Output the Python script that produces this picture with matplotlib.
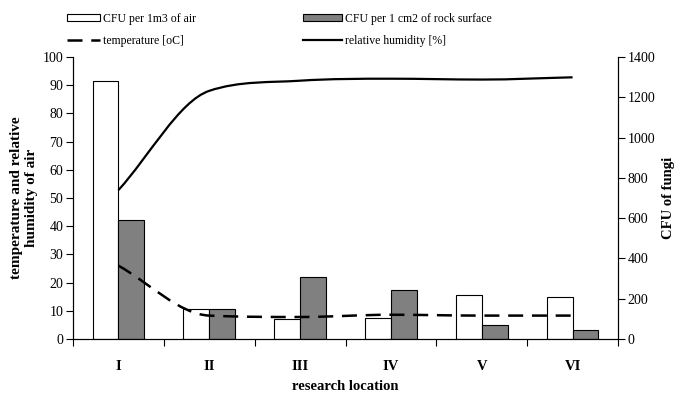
import matplotlib
matplotlib.use("Agg")
import matplotlib.pyplot as plt
from matplotlib.path import Path
from matplotlib.patches import PathPatch, Patch
from matplotlib.lines import Line2D
import numpy as np

locations = ["I", "II", "III", "IV", "V", "VI"]
cfu_air = [1280, 150, 100, 105, 220, 210]
cfu_rock = [590, 150, 308, 243, 68, 45]
temperature = [26.0, 8.3, 7.8, 8.6, 8.3, 8.3]
humidity = [52.8, 88.0, 91.6, 92.3, 92.0, 92.8]

plt.rcParams['font.family'] = ['Liberation Serif', 'DejaVu Serif']

fig = plt.figure(figsize=(6.81, 3.93), dpi=100)
ax = fig.add_axes([73/681, 1-339/393, (618-73)/681, (339-57)/393])
ax2 = ax.twinx()

x = np.arange(len(locations))
w = 0.285
ax2.bar(x - w/2, cfu_air, w, color='white', edgecolor='black', linewidth=0.8)
ax2.bar(x + w/2, cfu_rock, w, color='#808080', edgecolor='black', linewidth=0.8)

def smooth_path(xs, ys):
    xs = np.asarray(xs, float)
    ys = np.asarray(ys, float)
    n = len(xs)
    h = np.diff(xs)
    d = np.diff(ys) / h
    m = np.zeros(n)
    for k in range(1, n - 1):
        if d[k - 1] * d[k] > 0:
            avg = 0.5 * (d[k - 1] + d[k])
            lim = 3 * min(abs(d[k - 1]), abs(d[k]))
            m[k] = np.sign(avg) * min(abs(avg), lim)
    m[0] = d[0]
    m[-1] = d[-1]
    verts = [(xs[0], ys[0])]
    codes = [Path.MOVETO]
    for i in range(n - 1):
        dx = h[i] / 3.0
        verts += [(xs[i] + dx, ys[i] + m[i] * dx),
                  (xs[i + 1] - dx, ys[i + 1] - m[i + 1] * dx),
                  (xs[i + 1], ys[i + 1])]
        codes += [Path.CURVE4] * 3
    return Path(verts, codes)

dash = (0, (6, 3.5))
hum_patch = PathPatch(smooth_path(x, humidity), fill=False, edgecolor='black',
                      linewidth=1.6, transform=ax.transData)
ax.add_patch(hum_patch)
tmp_patch = PathPatch(smooth_path(x, temperature), fill=False, edgecolor='black',
                      linewidth=1.8, linestyle=dash, transform=ax.transData)
ax.add_patch(tmp_patch)

ax.set_zorder(ax2.get_zorder() + 1)
ax.patch.set_visible(False)

ax.set_xlim(-0.5, 5.5)
ax.set_ylim(0, 100)
ax2.set_ylim(0, 1400)
ax.set_yticks(range(0, 101, 10))
ax2.set_yticks(range(0, 1401, 200))

ax.set_xticks(np.arange(-0.5, 6, 1))
ax.set_xticklabels([])
ax.set_xticks(x, minor=True)
ax.set_xticklabels(locations, minor=True, fontweight='bold', fontsize=10.5)
ax.tick_params(axis='x', which='minor', length=0, pad=15)
ax.tick_params(axis='x', which='major', length=5, direction='out', width=0.8)
ax.tick_params(axis='y', length=5, direction='out', labelsize=10, width=0.8, pad=2)
ax2.tick_params(axis='y', length=5, direction='out', labelsize=10, width=0.8, pad=2)

for a in (ax, ax2):
    a.spines['top'].set_visible(False)
    for s in ('left', 'right', 'bottom'):
        a.spines[s].set_linewidth(0.8)

ax.set_xlabel('research location', fontweight='bold', fontsize=10.5, labelpad=5)
ax.set_ylabel('temperature and relative\nhumidity of air', fontweight='bold',
              fontsize=11, labelpad=3, linespacing=1.2)
ax2.set_ylabel('CFU of fungi', fontweight='bold', fontsize=10.5, labelpad=5)

h_air = Patch(facecolor='white', edgecolor='black', linewidth=0.8, label='CFU per 1m3 of air')
h_tmp = Line2D([], [], color='black', linewidth=1.8, linestyle=dash, label='temperature [oC]')
h_rock = Patch(facecolor='#808080', edgecolor='black', linewidth=0.8, label='CFU per 1 cm2 of rock surface')
h_hum = Line2D([], [], color='black', linewidth=1.6, label='relative humidity [%]')

leg_kw = dict(frameon=False, fontsize=8.5, handleheight=0.55,
              handletextpad=0.25, labelspacing=0.85, borderaxespad=0, borderpad=0)
leg1 = fig.legend(handles=[h_air, h_tmp], loc='upper left', handlelength=2.8,
                  bbox_to_anchor=(67/681, 1-13/393), **leg_kw)
leg2 = fig.legend(handles=[h_rock, h_hum], loc='upper left', handlelength=3.3,
                  bbox_to_anchor=(303/681, 1-13/393), **leg_kw)

fig.savefig('out.png', dpi=100)
